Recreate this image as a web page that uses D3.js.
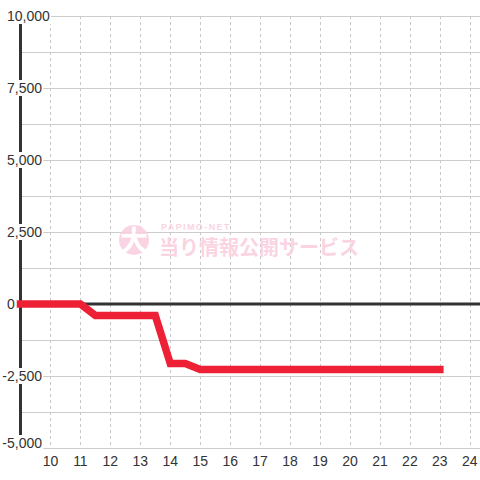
<!DOCTYPE html>
<html><head><meta charset="utf-8">
<script src="https://cdn.jsdelivr.net/npm/d3@7"></script>
<style>html,body{margin:0;padding:0;background:#fff;}svg{display:block;}</style>
</head><body>
<svg id="c" width="480" height="480"></svg>
<script>
const hours = [9, 11, 11.5, 13.5, 14, 14.5, 15, 23];
const values = [0, 0, -400, -400, -2070, -2070, -2270, -2270];
const xTicks = [10,11,12,13,14,15,16,17,18,19,20,21,22,23,24];
const yTicks = [10000, 7500, 5000, 2500, 0, -2500, -5000];
const yGrid = [10000, 8750, 7500, 6250, 5000, 3750, 2500, 1250, 0, -1250, -2500, -3750, -5000];

const W = 480, H = 480;
const svg = d3.select('#c');
const x = d3.scaleLinear().domain([9, 24]).range([20.5, 469.8]);
const y = d3.scaleLinear().domain([-5000, 10000]).range([448, 16]);
const font = '"Liberation Sans", Arial, sans-serif';

// horizontal grid
svg.append('g').selectAll('line').data(yGrid).join('line')
  .attr('x1', x(9)).attr('x2', W)
  .attr('y1', d => y(d)).attr('y2', d => y(d))
  .attr('stroke', '#cccccc').attr('stroke-width', 1).attr('shape-rendering','crispEdges');

// vertical dashed grid
svg.append('g').selectAll('line').data(xTicks).join('line')
  .attr('x1', d => Math.round(x(d)) + 0.5).attr('x2', d => Math.round(x(d)) + 0.5)
  .attr('y1', y(10000)).attr('y2', y(-5000))
  .attr('stroke', '#c8c8c8').attr('stroke-width', 1).attr('stroke-dasharray', '3,3');

// watermark
const wm = svg.append('g').attr('opacity', 0.9);
wm.append('circle').attr('cx', 134).attr('cy', 240).attr('r', 15).attr('fill', '#fbd0e0');
wm.append('text').attr('x', 134).attr('y', 251).attr('text-anchor', 'middle')
  .attr('font-family', '"Noto Sans CJK JP", sans-serif').attr('font-weight', 'bold')
  .attr('font-size', 28).attr('fill', '#ffffff').text('大');
wm.append('text').attr('x', 161).attr('y', 230)
  .attr('font-family', font).attr('font-weight', 'bold').attr('font-size', 9)
  .attr('letter-spacing', 1.4).attr('fill', '#fbd0e0').text('PAPIMO-NET');
wm.append('text').attr('x', 159).attr('y', 255)
  .attr('font-family', '"Noto Sans CJK JP", sans-serif').attr('font-weight', 'bold')
  .attr('font-size', 20).attr('fill', '#fbd0e0').text('当り情報公開サービス');

// y axis line
svg.append('line').attr('x1', x(9)).attr('x2', x(9)).attr('y1', y(10000)).attr('y2', y(-5000))
  .attr('stroke', '#333333').attr('stroke-width', 3);

// zero line
svg.append('line').attr('x1', x(9)).attr('x2', W).attr('y1', y(0)).attr('y2', y(0))
  .attr('stroke', '#333333').attr('stroke-width', 3);

// y labels with white background
const fmt = v => d3.format(',')(v).replace('\u2212', '-');
const yl = svg.append('g');
const hyphenW = (() => {
  const t = svg.append('text').attr('font-family', font).attr('font-size', 14).text('-');
  const w = t.node().getComputedTextLength(); t.remove(); return w;
})();
yTicks.forEach(v => {
  const g = yl.append('g');
  const tx = v < 0 ? 7 - hyphenW : 7;
  const ty = Math.min(y(v), y(-5000) - 5);
  const t = g.append('text').attr('x', tx).attr('y', ty).attr('dy', '0.36em')
    .attr('font-family', font).attr('font-size', 14).attr('fill', '#333333').text(fmt(v));
  const bb = t.node().getBBox();
  g.insert('rect', 'text').attr('x', bb.x - 1).attr('y', ty - 8).attr('width', bb.width + 2).attr('height', 16).attr('fill', '#fff');
});

// x labels
svg.append('g').selectAll('text').data(xTicks).join('text')
  .attr('x', d => x(d)).attr('y', 466).attr('text-anchor', 'middle')
  .attr('font-family', font).attr('font-size', 14).attr('fill', '#333333').text(d => d);

// data line
const pts = hours.map((h, i) => [h, values[i]]);
svg.append('path').datum(pts)
  .attr('d', d3.line().x(d => x(d[0])).y(d => y(d[1])))
  .attr('fill', 'none').attr('stroke', '#ee2035').attr('stroke-width', 7.5)
  .attr('stroke-linecap', 'square').attr('stroke-linejoin', 'miter');
</script>
</body></html>
